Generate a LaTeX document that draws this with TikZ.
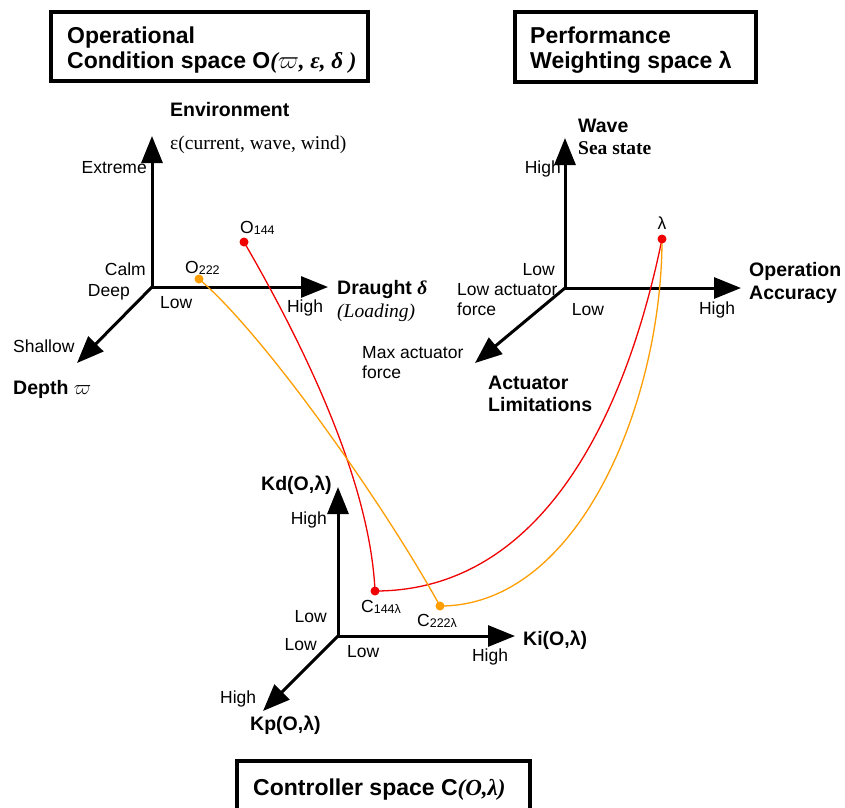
\documentclass[tikz,border=0pt]{standalone}
\usepackage{fontspec}
\setmainfont{Liberation Sans}
\newfontfamily\serifface{Liberation Serif}
\usetikzlibrary{arrows.meta}
\definecolor{ptred}{RGB}{240,0,0}
\definecolor{ptorange}{RGB}{255,158,0}

\newcommand{\subtxt}[1]{{\fontsize{12.5}{12.5}\selectfont\raisebox{-1.2pt}{#1}}}

\begin{document}
\begin{tikzpicture}[x=1pt,y=-1pt,
  axis/.style={line width=3pt,-{Triangle[length=27pt,width=21pt]}},
  lbl/.style={inner sep=0pt,font=\fontsize{17.5}{20}\selectfont,align=left},
  bold/.style={inner sep=0pt,font=\fontsize{19.5}{22.5}\selectfont\bfseries,align=left},
  ttl/.style={inner sep=0pt,font=\fontsize{23}{25}\selectfont\bfseries,anchor=base west},
  frame/.style={line width=4pt},
  reddot/.style={circle,fill=ptred,inner sep=0pt,minimum size=9pt},
  orgdot/.style={circle,fill=ptorange,inner sep=0pt,minimum size=9pt},
  redcurve/.style={draw=ptred,line width=1.3pt},
  orgcurve/.style={draw=ptorange,line width=1.3pt}
]
\clip (0,0) rectangle (845,807);
\fill[white] (0,0) rectangle (845,807);

% ---------- title frames ----------
\draw[frame] (51,12) rectangle (368,81);
\node[ttl] (t1a) at (67,43) {Operational};
\node[ttl] (t1b) at (67,68) {Condition space O{\serifface\itshape(}$\varpi${\serifface\itshape, ε, δ )}};

\draw[frame] (515,12) rectangle (756,82);
\node[ttl] (t2a) at (530,43) {Performance};
\node[ttl] (t2b) at (530,68) {Weighting space λ};

\draw[frame] (237,761) rectangle (530,830);
\node[ttl] (t3) at (253,795) {Controller space C{\serifface\itshape(O,λ)}};

% ---------- operational condition space ----------
\coordinate (A1) at (152,287);
\coordinate (A1up) at (152,136);
\coordinate (A1x) at (328,287);
\coordinate (A1d) at (77,363);
\draw[axis] (A1) -- (A1up);
\draw[axis] (A1) -- (A1x);
\draw[axis] (A1) -- (A1d);

\node[bold,anchor=west] (env) at (170,110) {Environment};
\node[lbl,anchor=west,font=\fontsize{19.5}{22}\serifface] (envv) at (170,145) {ε(current, wave, wind)};
\node[lbl,anchor=east] (extreme) at (147,168) {Extreme};
\node[lbl,anchor=east] (calm) at (146,269) {Calm};
\node[lbl,anchor=east] (deep) at (130,292) {Deep};
\node[lbl,anchor=west] (low1) at (160,303) {Low};
\node[lbl] (high1) at (305,308) {High};
\node[bold,anchor=west] (draught) at (337,289) {Draught {\serifface\itshape δ}};
\node[lbl,anchor=west,font=\fontsize{19.5}{22}\serifface\itshape] (loading) at (337,313) {(Loading)};
\node[lbl,anchor=west] (shallow) at (13,346) {Shallow};
\node[bold,anchor=west] (depth) at (13,389) {Depth $\varpi$};

% ---------- performance weighting space ----------
\coordinate (A2) at (565,288);
\coordinate (A2up) at (565,138);
\coordinate (A2x) at (741,288);
\coordinate (A2d) at (475,363);
\draw[axis] (A2) -- (A2up);
\draw[axis] (A2) -- (A2x);
\draw[axis] (A2) -- (A2d);

\node[bold,anchor=west] (wave) at (578,126) {Wave};
\node[bold,anchor=west,font=\fontsize{19.5}{22}\serifface\bfseries] (sea) at (578,148) {Sea state};
\node[lbl,anchor=east] (high2) at (561,169) {High};
\node[lbl,anchor=east] (low2a) at (555,270) {Low};
\node[lbl,anchor=west] (lowact) at (457,300) {Low actuator\\force};
\node[lbl] (low2b) at (588,310) {Low};
\node[lbl] (high2b) at (717,310) {High};
\node[bold,anchor=west] (opacc) at (749,283) {Operation\\Accuracy};
\node[lbl,anchor=west] (maxact) at (362,363) {Max actuator\\force};
\node[bold,anchor=west] (actlim) at (488,394) {Actuator\\Limitations};

% ---------- controller space ----------
\coordinate (A3) at (338,636);
\coordinate (A3up) at (338,487);
\coordinate (A3x) at (515,636);
\coordinate (A3d) at (263,711);
\draw[axis] (A3) -- (A3up);
\draw[axis] (A3) -- (A3x);
\draw[axis] (A3) -- (A3d);

\node[bold,anchor=west] (kd) at (261,485) {Kd(O,λ)};
\node[lbl,anchor=east] (high3a) at (327,520) {High};
\node[lbl,anchor=east] (low3a) at (327,617) {Low};
\node[lbl,anchor=east] (low3b) at (317,645) {Low};
\node[lbl,anchor=west] (low3c) at (347,652) {Low};
\node[lbl] (high3b) at (490,657) {High};
\node[bold,anchor=west] (ki) at (523,640) {Ki(O,λ)};
\node[lbl,anchor=west] (high3c) at (220,699) {High};
\node[bold,anchor=west] (kp) at (250,725) {Kp(O,λ)};

% ---------- operating points and their mappings ----------
\coordinate (O144) at (244,242);
\coordinate (O222) at (199,279);
\coordinate (LAM) at (662,239);
\coordinate (C144) at (375,591);
\coordinate (C222) at (440,606);

\draw[redcurve] (O144) .. controls (302,342) and (370,480) .. (C144);
\draw[redcurve] (C144) .. controls (540,591) and (625,420) .. (LAM);
\draw[orgcurve] (O222) .. controls (265,335) and (385,506) .. (C222);
\draw[orgcurve] (C222) .. controls (580,606) and (662,400) .. (LAM);

\node[reddot] (p144) at (O144) {};
\node[orgdot] (p222) at (O222) {};
\node[reddot] (plam) at (LAM) {};
\node[reddot] (c144) at (C144) {};
\node[orgdot] (c222) at (C222) {};

\node[lbl,anchor=west] (o144l) at (240,228) {O\subtxt{144}};
\node[lbl,anchor=west] (o222l) at (185,268) {O\subtxt{222}};
\node[lbl] (laml) at (662,223) {λ};
\node[lbl,anchor=west] (c144l) at (361,607) {C\subtxt{144λ}};
\node[lbl,anchor=west] (c222l) at (417,621) {C\subtxt{222λ}};
\end{tikzpicture}
\end{document}
